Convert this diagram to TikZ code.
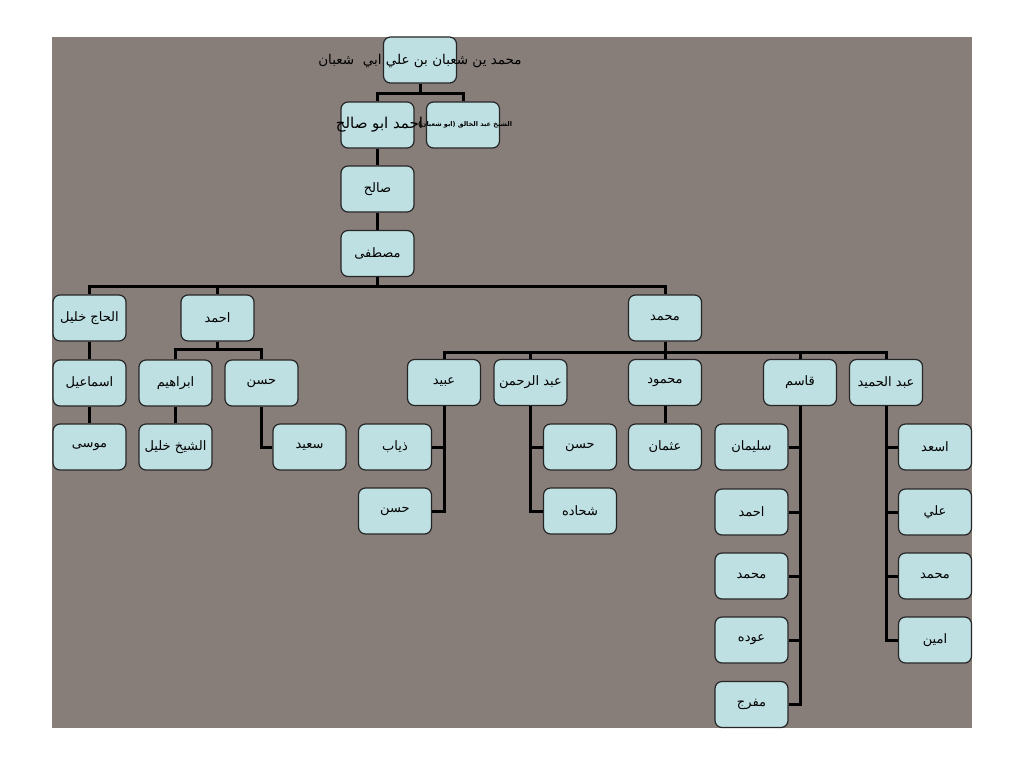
\documentclass[tikz,border=0pt]{standalone}
\usepackage{fontspec}
\TeXXeTstate=1
\newfontfamily\arabicfont[Script=Arabic]{DejaVu Sans}
\newcommand{\artxt}[1]{\beginR #1\endR}
\definecolor{bgray}{HTML}{877E7A}
\definecolor{boxfill}{HTML}{BFE0E3}
\begin{document}
\begin{tikzpicture}[x=1pt,y=-1pt,
  box/.style={draw=black!85, line width=1.2pt, fill=boxfill, rounded corners=7pt,
    minimum width=73pt, minimum height=46pt, inner sep=1pt,
    font=\arabicfont\fontsize{13}{15}\selectfont},
  lbl/.style={inner sep=0pt, font=\arabicfont\fontsize{13.5}{16}\selectfont},
  mid/.style={inner sep=0pt, font=\arabicfont\fontsize{15}{17}\selectfont},
  tiny/.style={inner sep=0pt, font=\arabicfont\bfseries\fontsize{6.5}{8}\selectfont},
  link/.style={line width=3pt, draw=black}]
\useasboundingbox (0,0) rectangle (1024,768);
\fill[white] (0,0) rectangle (1024,768);
\fill[bgray] (52,37) rectangle (972,728);

% top
\node[box] (root) at (420,60) {};
\node[box] (abusaleh) at (377.5,125) {};
\node[box] (abdkhaliq) at (463,125) {};
\node[box] (saleh) at (377.5,189) {\artxt{صالح}};
\node[box] (mustafa) at (377.5,253.5) {\artxt{مصطفى}};
% row 3
\node[box] (hajj) at (89.5,318) {\artxt{الحاج خليل}};
\node[box] (ahmad) at (217.5,318) {\artxt{احمد}};
\node[box] (muhammad) at (665,318) {\artxt{محمد}};
% left branch
\node[box] (ismail) at (89.5,383) {\artxt{اسماعيل}};
\node[box] (musa) at (89.5,447) {\artxt{موسى}};
\node[box] (ibrahim) at (175.5,383) {\artxt{ابراهيم}};
\node[box] (hasanA) at (261.5,383) {\artxt{حسن}};
\node[box] (shaykh) at (175.5,447) {\artxt{الشيخ خليل}};
\node[box] (said) at (309.5,447) {\artxt{سعيد}};
% muhammad's children
\node[box] (ubaid) at (444,382.5) {\artxt{عبيد}};
\node[box] (abdrahman) at (530.5,382.5) {\artxt{عبد الرحمن}};
\node[box] (mahmud) at (665,382.5) {\artxt{محمود}};
\node[box] (qasim) at (800,382.5) {\artxt{قاسم}};
\node[box] (abdhamid) at (886,382.5) {\artxt{عبد الحميد}};
\node[box] (dhiyab) at (395,447) {\artxt{ذياب}};
\node[box] (hasanB) at (395,511) {\artxt{حسن}};
\node[box] (hasanC) at (580,447) {\artxt{حسن}};
\node[box] (shahada) at (580,511) {\artxt{شحاده}};
\node[box] (uthman) at (665,447) {\artxt{عثمان}};
\node[box] (sulayman) at (751.5,447) {\artxt{سليمان}};
\node[box] (ahmadB) at (751.5,512) {\artxt{احمد}};
\node[box] (muhammadB) at (751.5,576) {\artxt{محمد}};
\node[box] (awda) at (751.5,640) {\artxt{عوده}};
\node[box] (mufarrij) at (751.5,704.5) {\artxt{مفرج}};
\node[box] (asad) at (935,447) {\artxt{اسعد}};
\node[box] (ali) at (935,512) {\artxt{علي}};
\node[box] (muhammadC) at (935,576) {\artxt{محمد}};
\node[box] (amin) at (935,640) {\artxt{امين}};

% overflowing labels
\node[lbl] (roottxt) at (420,61) {\artxt{محمد ين شعبان بن علي ابي\ \ شعبان}};
\node[mid] (abusalehtxt) at (379.5,125) {\artxt{احمد ابو صالح}};
\node[tiny] (abdkhaliqtxt) at (465,125) {\artxt{الشيخ عبد الخالق (ابو شعبان)}};

% connectors
\draw[link] (root.south) -- ++(0,10) -| (abusaleh.north);
\draw[link] (root.south) -- ++(0,10) -| (abdkhaliq.north);
\draw[link] (abusaleh.south) -- (saleh.north);
\draw[link] (saleh.south) -- (mustafa.north);
\draw[link] (mustafa.south) -- ++(0,9) -| (hajj.north);
\draw[link] (mustafa.south) -- ++(0,9) -| (ahmad.north);
\draw[link] (mustafa.south) -- ++(0,9) -| (muhammad.north);
\draw[link] (hajj.south) -- (ismail.north);
\draw[link] (ismail.south) -- (musa.north);
\draw[link] (ahmad.south) -- ++(0,8) -| (ibrahim.north);
\draw[link] (ahmad.south) -- ++(0,8) -| (hasanA.north);
\draw[link] (ibrahim.south) -- (shaykh.north);
\draw[link] (hasanA.south) |- (said.west);
\foreach \c in {ubaid,abdrahman,mahmud,qasim,abdhamid}
  \draw[link] (muhammad.south) -- ++(0,11) -| (\c.north);
\draw[link] (ubaid.south) |- (dhiyab.east);
\draw[link] (ubaid.south) |- (hasanB.east);
\draw[link] (abdrahman.south) |- (hasanC.west);
\draw[link] (abdrahman.south) |- (shahada.west);
\draw[link] (mahmud.south) -- (uthman.north);
\foreach \c in {sulayman,ahmadB,muhammadB,awda,mufarrij}
  \draw[link] (qasim.south) |- (\c.east);
\foreach \c in {asad,ali,muhammadC,amin}
  \draw[link] (abdhamid.south) |- (\c.west);
\end{tikzpicture}
\end{document}
